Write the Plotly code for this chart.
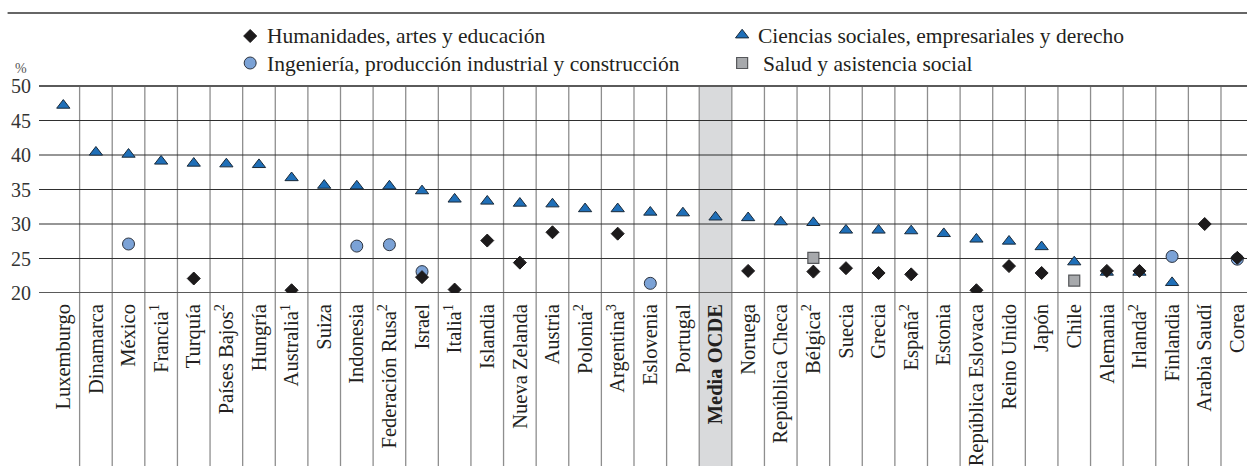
import plotly.graph_objects as go

# Categories (left to right) and tick labels
countries = [
    "Luxemburgo", "Dinamarca", "México", "Francia<sup>1</sup>", "Turquía",
    "Países Bajos<sup>2</sup>", "Hungría", "Australia<sup>1</sup>", "Suiza", "Indonesia",
    "Federación Rusa<sup>2</sup>", "Israel", "Italia<sup>1</sup>", "Islandia", "Nueva Zelanda",
    "Austria", "Polonia<sup>2</sup>", "Argentina<sup>3</sup>", "Eslovenia", "Portugal",
    "<b>Media OCDE</b>", "Noruega", "República Checa", "Bélgica<sup>2</sup>", "Suecia",
    "Grecia", "España<sup>2</sup>", "Estonia", "República Eslovaca", "Reino Unido",
    "Japón", "Chile", "Alemania", "Irlanda<sup>2</sup>", "Finlandia",
    "Arabia Saudí", "Corea",
]

# Share of tertiary entrants by field (%)
humanidades = [
    None, None, None, None, 22.1, None, None, 20.4, None, None,
    None, 22.3, 20.5, 27.6, 24.4, 28.8, None, 28.6, None, None,
    None, 23.2, None, 23.1, 23.6, 22.9, 22.7, None, 20.4, 23.9,
    22.9, None, 23.2, 23.2, None, 30.0, 25.1,
]
ciencias = [
    47.2, 40.4, 40.1, 39.1, 38.8, 38.7, 38.6, 36.7, 35.6, 35.5,
    35.5, 34.8, 33.6, 33.3, 33.0, 32.9, 32.2, 32.2, 31.7, 31.6,
    31.0, 30.9, 30.3, 30.2, 29.1, 29.1, 29.0, 28.6, 27.8, 27.5,
    26.7, 24.5, 23.0, 23.0, 21.5, None, None,
]
ingenieria = [
    None, None, 27.1, None, None, None, None, None, None, 26.8,
    27.0, 23.1, None, None, None, None, None, None, 21.4, None,
    None, None, None, None, None, None, None, None, None, None,
    None, None, None, None, 25.3, None, 24.9,
]
salud = [
    None, None, None, None, None, None, None, None, None, None,
    None, None, None, None, None, None, None, None, None, None,
    None, None, None, 25.1, None, None, None, None, None, None,
    None, 21.8, None, None, None, None, None,
]

series_names = [
    "Humanidades, artes y educación",
    "Ciencias sociales, empresariales y derecho",
    "Ingeniería, producción industrial y construcción",
    "Salud y asistencia social",
]
y_ticks = [20, 25, 30, 35, 40, 45, 50]
highlight = "<b>Media OCDE</b>"

# canvas geometry (px)
W, H = 1247, 466
L = 47.4          # left edge of first column
Y_TOP = 86        # pixel row of the 50 % line
Y_BOT = 293       # pixel row of the 20 % line
B = H - Y_BOT
PW, PH = W - L, Y_BOT  # plot area spans the full height above the axis
COL = 32.6        # column width

PX_PER_UNIT = (Y_BOT - Y_TOP) / (y_ticks[-1] - y_ticks[0])
Y_MAX = y_ticks[-1] + Y_TOP / PX_PER_UNIT   # value at the very top of the canvas

FONT = "Liberation Serif"
INK = "#231f20"


def px(x):
    return (x - L) / PW


def py(y):
    return (Y_BOT - y) / PH


sty = {
    "tri": dict(symbol="triangle-up", size=11.5, color="#1f6fb8", line=dict(color="#1a2a3a", width=1)),
    "circ": dict(symbol="circle", size=12, color="#7ba2d6", line=dict(color="#2d3440", width=1)),
    "sq": dict(symbol="square", size=11, color="#a7a9ac", line=dict(color="#55575a", width=1.2)),
    "dia": dict(symbol="diamond", size=10, color="#1c1a1b", line=dict(color="#1c1a1b", width=1)),
}

xs = list(range(len(countries)))
fig = go.Figure()

# draw order: triangles, circles, squares, diamonds on top
for vals, key, name in [
    (ciencias, "tri", series_names[1]),
    (ingenieria, "circ", series_names[2]),
    (salud, "sq", series_names[3]),
    (humanidades, "dia", series_names[0]),
]:
    fig.add_trace(go.Scatter(
        x=xs, y=vals, mode="markers", name=name, marker=sty[key],
        showlegend=False, hoverinfo="x+y+name",
    ))

# legend keys on a pixel-based overlay axis
leg_items = [
    ("dia", series_names[0], 250.5, 36, 265),
    ("tri", series_names[1], 742.3, 35, 756),
    ("circ", series_names[2], 250.5, 63, 265),
    ("sq", series_names[3], 742.3, 63, 761),
]
for key, name, mx, my, tx in leg_items:
    fig.add_trace(go.Scatter(
        x=[mx], y=[my], xaxis="x2", yaxis="y2", mode="markers",
        marker=sty[key], showlegend=False, hoverinfo="skip",
    ))

annotations = []
for key, name, mx, my, tx in leg_items:
    annotations.append(dict(
        x=px(tx), y=py(my + 0.5), xref="paper", yref="paper", text=name, showarrow=False,
        xanchor="left", yanchor="middle", font=dict(family=FONT, size=21.5, color=INK),
    ))
annotations.append(dict(
    x=px(21.5), y=py(69), xref="paper", yref="paper", text="%", showarrow=False,
    xanchor="center", yanchor="middle", font=dict(family=FONT, size=14, color="#555"),
))

shapes = []
# highlighted OECD average column
hi = countries.index(highlight)
shapes.append(dict(type="rect", xref="x", yref="paper", x0=hi - 0.5, x1=hi + 0.5,
                   y0=-1, y1=py(Y_TOP), fillcolor="#d9dadc", line=dict(width=0), layer="below"))
# column separators
for k in range(len(countries) - 1):
    shapes.append(dict(type="line", xref="x", yref="paper", x0=k + 0.5, x1=k + 0.5,
                       y0=-1, y1=py(Y_TOP), line=dict(color="#8e8e8e", width=1.3), layer="below"))
# horizontal grid
for v in y_ticks:
    edge = v in (y_ticks[0], y_ticks[-1])
    shapes.append(dict(type="line", xref="paper", yref="y", x0=-8 / PW, x1=1, y0=v, y1=v,
                       line=dict(color="#5a5a5a" if edge else "#2f2f2f", width=2 if edge else 1.2),
                       layer="below"))
# rule across the top
shapes.append(dict(type="line", xref="paper", yref="paper", x0=px(8), x1=1,
                   y0=py(13), y1=py(13), line=dict(color="#333", width=1.6)))

fig.update_layout(
    width=W, height=H,
    margin=dict(l=L, r=0, t=0, b=B, pad=0, autoexpand=False),
    paper_bgcolor="white", plot_bgcolor="rgba(0,0,0,0)",
    showlegend=False,
    font=dict(family=FONT, color=INK),
    xaxis=dict(
        range=[-0.5, -0.5 + PW / COL], tickmode="array", tickvals=xs, ticktext=countries,
        tickangle=-90, showgrid=False, zeroline=False, showline=False, ticks="",
        automargin=False, ticklabeloverflow="allow",
        ticklabelstandoff=6, tickfont=dict(family=FONT, size=20.5, color=INK),
    ),
    yaxis=dict(
        range=[y_ticks[0], Y_MAX], tickmode="array", tickvals=y_ticks, showgrid=False,
        zeroline=False, showline=False, ticks="", ticklabelstandoff=15, automargin=False,
        tickfont=dict(family=FONT, size=20, color="#333"),
    ),
    xaxis2=dict(overlaying="x", range=[L, W], visible=False, automargin=False),
    yaxis2=dict(overlaying="y", range=[Y_BOT, 0], visible=False, automargin=False),
    shapes=shapes,
    annotations=annotations,
)

fig.write_html("out.html")
